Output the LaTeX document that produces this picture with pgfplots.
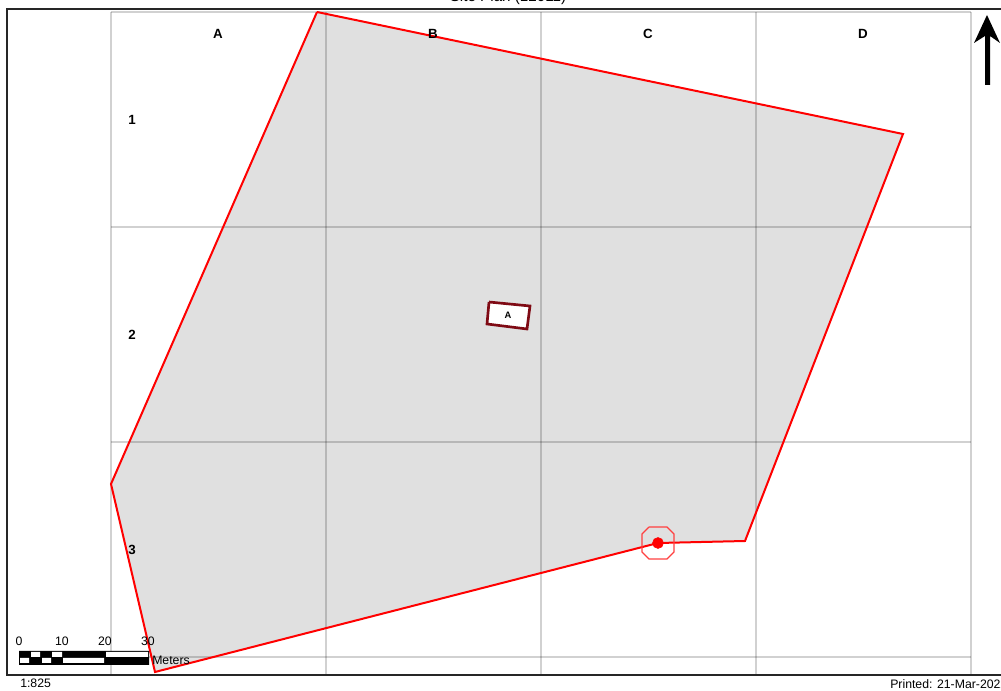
\documentclass[border=0pt]{standalone}
\usepackage{fontspec}
\setmainfont{Liberation Sans}
\usepackage{pgfplots}
\pgfplotsset{compat=1.18}
\definecolor{parcel}{HTML}{E0E0E0}
\definecolor{siteline}{HTML}{FF0000}
\definecolor{bldg}{HTML}{7F0A14}
\newcommand{\mlabel}[2]{\node[font=\fontsize{10}{11}\selectfont\bfseries,text=black] at (axis cs:#1) {#2};}
\begin{document}
\begin{tikzpicture}
% page = the 1001x691 px image, 1 px = 0.75pt
\path[use as bounding box] (0pt,0pt) rectangle (750.75pt,518.25pt);
\begin{axis}[
    at={(0pt,0pt)},anchor=south west,
    scale only axis,width=750.75pt,height=518.25pt,
    xmin=0,xmax=1001,ymin=0,ymax=691,y dir=reverse,
    axis lines=none,clip=false,
]
% parcel
\addplot[fill=parcel,draw=none] coordinates {(317,12) (903,134) (745,541) (658,543) (155,672) (111,484) (317,12)};
% grid
\addplot[black,opacity=0.18,line width=1pt] coordinates {(111,12) (111,675)};
\addplot[black,opacity=0.18,line width=1pt] coordinates {(326,12) (326,675)};
\addplot[black,opacity=0.18,line width=1pt] coordinates {(541,12) (541,675)};
\addplot[black,opacity=0.18,line width=1pt] coordinates {(756,12) (756,675)};
\addplot[black,opacity=0.18,line width=1pt] coordinates {(971,12) (971,675)};
\addplot[black,opacity=0.18,line width=1pt] coordinates {(111,12) (971,12)};
\addplot[black,opacity=0.18,line width=1pt] coordinates {(111,227) (971,227)};
\addplot[black,opacity=0.18,line width=1pt] coordinates {(111,442) (971,442)};
\addplot[black,opacity=0.18,line width=1pt] coordinates {(111,657) (971,657)};
% parcel outline
\addplot[siteline,line width=1.5pt,line join=miter] coordinates {(317,12) (903,134) (745,541) (658,543) (155,672) (111,484) (317,12)};
% building
\addplot[fill=white,draw=bldg,line width=2pt] coordinates {(489,302) (530,306) (527,329) (487,324) (489,302)};
% point and buffer
\addplot[siteline!75,line width=0.9pt] coordinates {(649,527) (667,527) (674,534) (674,552) (667,559) (649,559) (642,552) (642,534) (649,527)};
\addplot[only marks,mark=*,mark size=4.1pt,siteline] coordinates {(658,543)};
% north arrow
\addplot[fill=black,draw=none] coordinates {(987,15) (1000,43) (990,36) (990,85) (985,85) (985,36) (974,43) (987,15)};
% scale bar
\addplot[fill=black,draw=none] coordinates {(19,651) (149,651) (149,665) (19,665) (19,651)};
\addplot[fill=white,draw=none] coordinates {(31,652) (40,652) (40,657) (31,657) (31,652)};
\addplot[fill=white,draw=none] coordinates {(52,652) (62,652) (62,657) (52,657) (52,652)};
\addplot[fill=white,draw=none] coordinates {(106,652) (148,652) (148,657) (106,657) (106,652)};
\addplot[fill=white,draw=none] coordinates {(20,658) (29,658) (29,663) (20,663) (20,658)};
\addplot[fill=white,draw=none] coordinates {(42,658) (51,658) (51,663) (42,663) (42,658)};
\addplot[fill=white,draw=none] coordinates {(63,658) (104,658) (104,663) (63,663) (63,658)};
% frame, right side runs off the page
\addplot[black!85,line width=1.3pt] coordinates {(1004,9) (7,9) (7,675) (1004,675)};
% text
\mlabel{218,34}{A}
\mlabel{433,34}{B}
\mlabel{648,34}{C}
\mlabel{863,34}{D}
\mlabel{132,120}{1}
\mlabel{132,335}{2}
\mlabel{132,550}{3}
\node[font=\fontsize{7}{8}\selectfont\bfseries] at (axis cs:508,315) {A};
\node[font=\fontsize{11.4}{13}\selectfont] at (axis cs:508,-2) {Site Plan (12011)};
\foreach \t/\px in {0/19,10/62,20/105,30/148}{
  \edef\tmp{\noexpand\node[font=\noexpand\fontsize{9.2}{11}\noexpand\selectfont] at (axis cs:\px,641) {\t};}\tmp
}
\node[font=\fontsize{9.2}{11}\selectfont,anchor=west,inner sep=0pt] at (axis cs:152,660) {Meters};
\node[font=\fontsize{9.2}{11}\selectfont,anchor=west,inner sep=0pt] at (axis cs:20,683) {1:825};
\node[font=\fontsize{9.2}{11}\selectfont,anchor=west,inner sep=0pt] at (axis cs:890,684) {Printed: 21-Mar-2022};
\end{axis}
\end{tikzpicture}
\end{document}
